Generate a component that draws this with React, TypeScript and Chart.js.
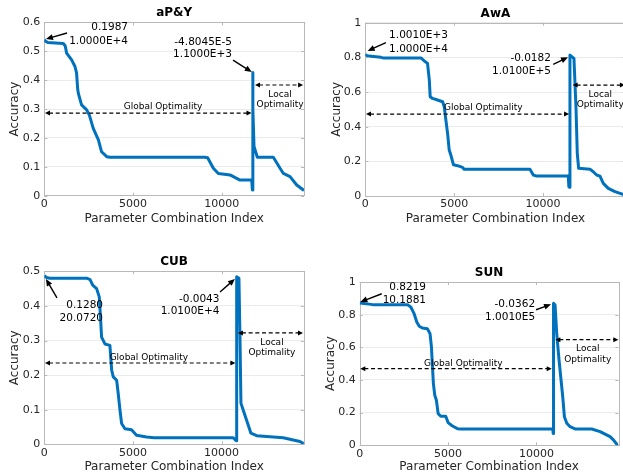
import React, { useEffect, useRef } from "react";
import { Chart, registerables } from "chart.js";
Chart.register(...registerables);

const FONT = "'DejaVu Sans', 'Liberation Sans', sans-serif";
Chart.defaults.font.family = FONT;

// ---------- shared axis data ----------
const X_MAX = 14641;
const xTickValues = [0, 5000, 10000];
const xTickLabels = ["0", "5000", "10000"];
const xAxisTitle = "Parameter Combination Index";
const yAxisTitle = "Accuracy";

// ---------- aP&Y ----------
const apyX = [0, 60, 200, 1070, 1180, 1260, 1540, 1730, 1820, 1880, 1920, 2100, 2390, 2540, 2760, 3050, 3230, 3520, 3700, 9050, 9210, 9530, 9811, 10470, 10846, 11034, 11693, 11730, 11750, 11765, 11823, 12011, 12913, 13290, 13478, 13854, 14230, 14641];
const apyY = [0.54, 0.535, 0.53, 0.527, 0.518, 0.493, 0.47, 0.447, 0.424, 0.37, 0.354, 0.314, 0.297, 0.279, 0.233, 0.193, 0.152, 0.135, 0.133, 0.133, 0.131, 0.095, 0.077, 0.072, 0.06, 0.054, 0.054, 0.02, 0.426, 0.3, 0.17, 0.133, 0.133, 0.095, 0.077, 0.066, 0.037, 0.018];
const apyYTicks = [0, 0.1, 0.2, 0.3, 0.4, 0.5, 0.6];
const apyYLabels = ["0", "0.1", "0.2", "0.3", "0.4", "0.5", "0.6"];

// ---------- AwA ----------
const awaX = [0, 100, 320, 880, 1000, 3130, 3320, 3500, 3600, 3650, 3780, 4060, 4350, 4440, 4530, 4630, 4720, 4810, 4960, 5190, 5470, 5560, 9261, 9449, 9637, 11416, 11450, 11490, 11511, 11736, 11849, 11923, 12000, 12636, 12823, 13011, 13200, 13386, 13667, 14042, 14417, 14641];
const awaY = [0.817, 0.81, 0.807, 0.8, 0.797, 0.797, 0.779, 0.765, 0.67, 0.573, 0.563, 0.554, 0.544, 0.515, 0.44, 0.36, 0.265, 0.237, 0.18, 0.175, 0.165, 0.154, 0.154, 0.121, 0.115, 0.115, 0.054, 0.05, 0.813, 0.794, 0.515, 0.246, 0.16, 0.155, 0.14, 0.121, 0.115, 0.073, 0.044, 0.025, 0.012, 0.004];
const awaYTicks = [0, 0.2, 0.4, 0.6, 0.8, 1];
const awaYLabels = ["0", "0.2", "0.4", "0.6", "0.8", "1"];

// ---------- CUB ----------
const cubX = [0, 130, 300, 2390, 2580, 2730, 2950, 3100, 3180, 3230, 3420, 3700, 3800, 3890, 4080, 4170, 4270, 4360, 4550, 4920, 5200, 5770, 6200, 10657, 10820, 10850, 10977, 11033, 11090, 11278, 11466, 11654, 11975, 13476, 14417, 14641];
const cubY = [0.487, 0.482, 0.48, 0.48, 0.476, 0.46, 0.45, 0.426, 0.358, 0.31, 0.29, 0.286, 0.214, 0.195, 0.185, 0.146, 0.098, 0.06, 0.045, 0.042, 0.026, 0.021, 0.019, 0.019, 0.01, 0.484, 0.48, 0.321, 0.119, 0.09, 0.061, 0.032, 0.025, 0.019, 0.008, 0.002];
const cubYTicks = [0, 0.1, 0.2, 0.3, 0.4, 0.5];
const cubYLabels = ["0", "0.1", "0.2", "0.3", "0.4", "0.5"];

// ---------- SUN ----------
const sunX = [0, 640, 800, 2710, 2890, 3080, 3230, 3370, 3550, 3830, 3980, 4060, 4170, 4250, 4340, 4440, 4590, 4870, 5000, 5250, 5530, 5700, 10930, 10950, 10970, 11057, 11150, 11282, 11395, 11490, 11584, 11720, 11905, 12188, 13132, 13603, 14169, 14358, 14584, 14641];
const sunY = [0.871, 0.863, 0.86, 0.86, 0.847, 0.806, 0.755, 0.729, 0.718, 0.714, 0.684, 0.602, 0.378, 0.306, 0.276, 0.194, 0.178, 0.178, 0.139, 0.118, 0.102, 0.1, 0.1, 0.073, 0.87, 0.859, 0.686, 0.522, 0.4, 0.298, 0.175, 0.135, 0.114, 0.1, 0.1, 0.084, 0.053, 0.033, 0.002, 0];
const sunYTicks = [0, 0.2, 0.4, 0.6, 0.8, 1];
const sunYLabels = ["0", "0.2", "0.4", "0.6", "0.8", "1"];

// ---------- annotation texts ----------
const apyPointText = ["0.1987", "1.0000E+4"];
const apySpikeText = ["-4.8045E-5", "1.1000E+3"];
const awaPointText = ["1.0010E+3", "1.0000E+4"];
const awaSpikeText = ["-0.0182", "1.0100E+5"];
const cubPointText = ["0.1280", "20.0720"];
const cubSpikeText = ["-0.0043", "1.0100E+4"];
const sunPointText = ["0.8219", "10.1881"];
const sunSpikeText = ["-0.0362", "1.0010E5"];
const globalLabel = "Global Optimality";
const localLabel = ["Local", "Optimality"];

type Callout = { tail: [number, number]; head: [number, number]; textX: number; textY: number[]; text: string[] };
type Range = { y: number; x0: number; x1: number; labelX: number; labelY: number[]; label: string[] };
type PanelCfg = {
  title: string; xs: number[]; ys: number[]; yMax: number; yTicks: number[]; yLabels: string[];
  left: number; top: number; w: number; h: number;
  yW: number; yTitlePad: number; xH: number;
  pad: { left: number; right: number; top: number; bottom: number };
  callouts: Callout[]; ranges: Range[];
};

const panels: PanelCfg[] = [
  {
    title: "aP&Y", xs: apyX, ys: apyY, yMax: 0.6, yTicks: apyYTicks, yLabels: apyYLabels,
    left: 0, top: 0, w: 311, h: 237, yW: 44.3, yTitlePad: 7.8, xH: 30.5,
    pad: { left: 0, right: 7, top: 22.3, bottom: 10.8 },
    callouts: [
      { tail: [1280, 0.563], head: [94, 0.542], textX: 4720, textY: [0.584, 0.535], text: apyPointText },
      { tail: [10640, 0.469], head: [11700, 0.428], textX: 10580, textY: [0.532, 0.49], text: apySpikeText },
    ],
    ranges: [
      { y: 0.286, x0: 40, x1: 11680, labelX: 6690, labelY: [0.307], label: [globalLabel] },
      { y: 0.383, x0: 11880, x1: 14590, labelX: 13290, labelY: [0.348, 0.314], label: localLabel },
    ],
  },
  {
    title: "AwA", xs: awaX, ys: awaY, yMax: 1, yTicks: awaYTicks, yLabels: awaYLabels,
    left: 311, top: 0, w: 335, h: 237, yW: 54.3, yTitlePad: 18.8, xH: 30.5,
    pad: { left: 0, right: 20.4, top: 22.7, bottom: 10.5 },
    callouts: [
      { tail: [1162, 0.885], head: [133, 0.837], textX: 4650, textY: [0.925, 0.848], text: awaPointText },
      { tail: [10570, 0.76], head: [11400, 0.8], textX: 10440, textY: [0.794, 0.721], text: awaSpikeText },
    ],
    ranges: [
      { y: 0.473, x0: 40, x1: 11460, labelX: 6635, labelY: [0.512], label: [globalLabel] },
      { y: 0.64, x0: 11660, x1: 14600, labelX: 13215, labelY: [0.587, 0.525], label: localLabel },
    ],
  },
  {
    title: "CUB", xs: cubX, ys: cubY, yMax: 0.5, yTicks: cubYTicks, yLabels: cubYLabels,
    left: 0, top: 237, w: 311, h: 237, yW: 44.3, yTitlePad: 7.8, xH: 29.7,
    pad: { left: 0, right: 7.1, top: 34.3, bottom: 0 },
    callouts: [
      { tail: [714, 0.423], head: [94, 0.478], textX: 3310, textY: [0.403, 0.365], text: cubPointText },
      { tail: [9910, 0.44], head: [10750, 0.478], textX: 9880, textY: [0.42, 0.385], text: cubSpikeText },
    ],
    ranges: [
      { y: 0.235, x0: 40, x1: 10780, labelX: 5900, labelY: [0.25], label: [globalLabel] },
      { y: 0.322, x0: 10920, x1: 14590, labelX: 12840, labelY: [0.295, 0.264], label: localLabel },
    ],
  },
  {
    title: "SUN", xs: sunX, ys: sunY, yMax: 1, yTicks: sunYTicks, yLabels: sunYLabels,
    left: 311, top: 237, w: 312, h: 237, yW: 48.7, yTitlePad: 12.8, xH: 28.7,
    pad: { left: 0, right: 4.6, top: 45, bottom: 0 },
    callouts: [
      { tail: [1247, 0.928], head: [36, 0.878], textX: 3755, textY: [0.969, 0.89], text: sunPointText },
      { tail: [9980, 0.83], head: [10830, 0.863], textX: 9925, textY: [0.865, 0.786], text: sunSpikeText },
    ],
    ranges: [
      { y: 0.469, x0: 36, x1: 10870, labelX: 5866, labelY: [0.5], label: [globalLabel] },
      { y: 0.647, x0: 11073, x1: 14640, labelX: 12906, labelY: [0.59, 0.524], label: localLabel },
    ],
  },
];

const BOX = "#b8b8b8";
const TEXT = "#262626";

function head(ctx: CanvasRenderingContext2D, x0: number, y0: number, x1: number, y1: number, len: number, half: number) {
  const a = Math.atan2(y1 - y0, x1 - x0);
  const c = Math.cos(a), s = Math.sin(a);
  ctx.beginPath();
  ctx.moveTo(x1, y1);
  ctx.lineTo(x1 - len * c + half * s, y1 - len * s - half * c);
  ctx.lineTo(x1 - len * c - half * s, y1 - len * s + half * c);
  ctx.closePath();
  ctx.fill();
}

function makePlugin(p: PanelCfg) {
  return {
    id: "panelDeco" + p.title.replace(/[^A-Za-z]/g, ""),
    beforeDatasetsDraw(chart: any) {
      const { ctx, chartArea: a, scales } = chart;
      ctx.save();
      ctx.strokeStyle = BOX;
      ctx.lineWidth = 1;
      ctx.strokeRect(Math.round(a.left) + 0.5, Math.round(a.top) + 0.5, Math.round(a.right - a.left), Math.round(a.bottom - a.top));
      ctx.beginPath();
      for (const v of xTickValues) {
        const x = Math.round(scales.x.getPixelForValue(v)) + 0.5;
        ctx.moveTo(x, a.bottom); ctx.lineTo(x, a.bottom - 3);
        ctx.moveTo(x, a.top); ctx.lineTo(x, a.top + 3);
      }
      for (const v of p.yTicks) {
        const y = Math.round(scales.y.getPixelForValue(v)) + 0.5;
        ctx.moveTo(a.left, y); ctx.lineTo(a.left + 3, y);
        ctx.moveTo(a.right, y); ctx.lineTo(a.right - 3, y);
      }
      ctx.stroke();
      ctx.restore();
    },
    afterDatasetsDraw(chart: any) {
      const { ctx, chartArea: a, scales } = chart;
      const X = (v: number) => scales.x.getPixelForValue(v);
      const Y = (v: number) => scales.y.getPixelForValue(v);
      ctx.save();
      // title
      ctx.fillStyle = "#000";
      ctx.font = `bold 12px ${FONT}`;
      ctx.textAlign = "center";
      ctx.textBaseline = "middle";
      ctx.fillText(p.title, (a.left + a.right) / 2, a.top - 9.3);
      // callouts
      ctx.strokeStyle = "#000";
      ctx.fillStyle = "#000";
      for (const c of p.callouts) {
        const x0 = X(c.tail[0]), y0 = Y(c.tail[1]), x1 = X(c.head[0]), y1 = Y(c.head[1]);
        const d = Math.hypot(x1 - x0, y1 - y0);
        const ux = (x1 - x0) / d, uy = (y1 - y0) / d;
        ctx.lineWidth = 1.4;
        ctx.setLineDash([]);
        ctx.beginPath();
        ctx.moveTo(x0, y0);
        ctx.lineTo(x1 - ux * 6, y1 - uy * 6);
        ctx.stroke();
        head(ctx, x0, y0, x1, y1, 7, 3);
        ctx.font = `10.5px ${FONT}`;
        ctx.textAlign = "right";
        ctx.textBaseline = "middle";
        c.text.forEach((t, i) => ctx.fillText(t, X(c.textX), Y(c.textY[i])));
      }
      // ranges
      for (const r of p.ranges) {
        const x0 = X(r.x0), x1 = X(r.x1), y = Y(r.y);
        ctx.lineWidth = 1.2;
        ctx.setLineDash([4, 2.7]);
        ctx.beginPath();
        ctx.moveTo(x0 + 4, y);
        ctx.lineTo(x1 - 4, y);
        ctx.stroke();
        ctx.setLineDash([]);
        head(ctx, x1 - 10, y, x0, y, 5, 2.5);
        head(ctx, x0 + 10, y, x1, y, 5, 2.5);
        ctx.font = `9px ${FONT}`;
        ctx.textAlign = "center";
        ctx.textBaseline = "middle";
        r.label.forEach((t, i) => ctx.fillText(t, X(r.labelX), Y(r.labelY[i])));
      }
      ctx.restore();
    },
  };
}

function buildConfig(p: PanelCfg): any {
  return {
    type: "line",
    data: {
      datasets: [
        {
          data: p.xs.map((x, i) => ({ x, y: p.ys[i] })),
          borderColor: "#0072BD",
          borderWidth: 3,
          pointRadius: 0,
          tension: 0,
          fill: false,
          borderJoinStyle: "round",
        },
      ],
    },
    options: {
      responsive: false,
      animation: false,
      parsing: false,
      layout: { padding: p.pad },
      plugins: { legend: { display: false }, title: { display: false }, tooltip: { enabled: false } },
      scales: {
        x: {
          type: "linear",
          min: 0,
          max: X_MAX,
          afterBuildTicks: (s: any) => { s.ticks = xTickValues.map((v) => ({ value: v })); },
          afterFit: (s: any) => { s.height = p.xH; },
          ticks: {
            callback: (_v: any, i: number) => xTickLabels[i],
            color: TEXT,
            font: { family: FONT, size: 11 },
            padding: 2,
            maxRotation: 0,
            autoSkip: false,
          },
          grid: { display: false, drawTicks: false },
          border: { display: false },
          title: { display: true, text: xAxisTitle, color: TEXT, font: { family: FONT, size: 12 }, padding: { top: 0, bottom: 0 } },
        },
        y: {
          type: "linear",
          min: 0,
          max: p.yMax,
          afterBuildTicks: (s: any) => { s.ticks = p.yTicks.map((v) => ({ value: v })); },
          afterFit: (s: any) => { s.width = p.yW; },
          ticks: {
            callback: (_v: any, i: number) => p.yLabels[i],
            color: TEXT,
            font: { family: FONT, size: 11 },
            padding: 4,
          },
          grid: { color: "#ebebeb", drawTicks: false, lineWidth: 1 },
          border: { display: false },
          title: { display: true, text: yAxisTitle, color: TEXT, font: { family: FONT, size: 12 }, padding: { top: p.yTitlePad, bottom: 0 } },
        },
      },
    },
    plugins: [makePlugin(p)],
  };
}

function Panel({ p }: { p: PanelCfg }) {
  const ref = useRef<HTMLCanvasElement>(null);
  useEffect(() => {
    const chart = new Chart(ref.current as HTMLCanvasElement, buildConfig(p));
    return () => chart.destroy();
  }, [p]);
  return (
    <canvas
      ref={ref}
      width={p.w}
      height={p.h}
      style={{ position: "absolute", left: p.left, top: p.top, width: p.w, height: p.h }}
    />
  );
}

export default function App() {
  return (
    <div style={{ position: "absolute", left: 0, top: 0, width: 623, height: 474, overflow: "hidden", background: "#fff" }}>
      {panels.map((p) => (
        <Panel key={p.title} p={p} />
      ))}
    </div>
  );
}
